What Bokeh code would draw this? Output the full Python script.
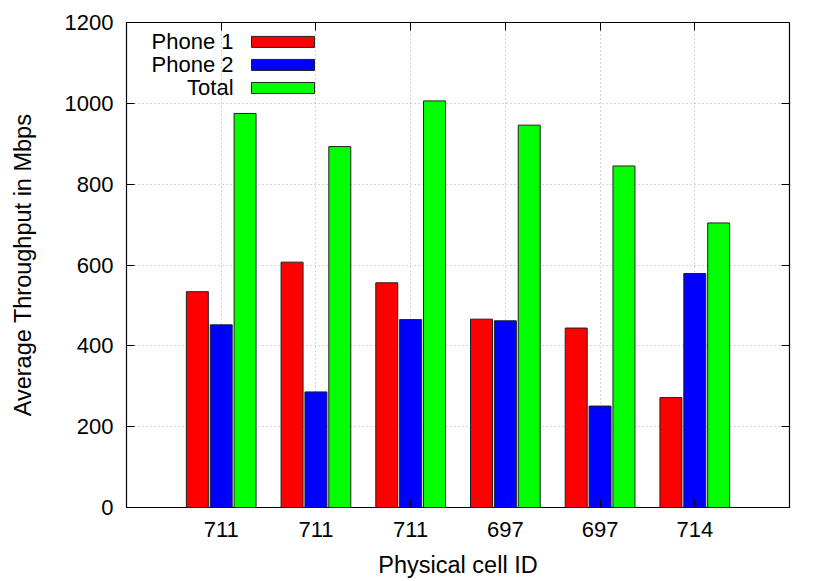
from bokeh.plotting import figure
from bokeh.models import (FixedTicker, LinearAxis, Range1d, Label, BoxAnnotation,
                          ColumnDataSource)
from bokeh.embed import file_html
from bokeh.resources import INLINE

# ---- data ----
cell_ids = ["711", "711", "711", "697", "697", "714"]
phone1 = [534, 607, 556, 466, 444, 272]
phone2 = [452, 286, 465, 462, 251, 579]
total = [975, 893, 1006, 946, 845, 704]
series_names = ["Phone 1", "Phone 2", "Total"]
series_colors = ["#ff0000", "#0000ff", "#00ff00"]
y_ticks = [0, 200, 400, 600, 800, 1000, 1200]

FONT = "Liberation Sans"
FS = "22px"
FS_LABEL = "23.5px"

positions = list(range(1, len(cell_ids) + 1))
series_values = [phone1, phone2, total]

p = figure(width=822, height=581,
           x_range=Range1d(0, len(cell_ids) + 1), y_range=Range1d(0, 1200),
           output_backend="svg", toolbar_location=None,
           min_border_left=126, min_border_right=33,
           min_border_top=22, min_border_bottom=74,
           background_fill_color="white", border_fill_color="white")

p.outline_line_color = "black"
p.outline_line_width = 1.2

# grids
p.xgrid.ticker = FixedTicker(ticks=positions)
p.ygrid.ticker = FixedTicker(ticks=y_ticks)
for g in (p.xgrid, p.ygrid):
    g.grid_line_color = "#a8a8a8"
    g.grid_line_dash = "1 3"
    g.grid_line_width = 1

# axes
xa = p.xaxis[0]
xa.ticker = FixedTicker(ticks=positions)
xa.major_label_overrides = {pos: lab for pos, lab in zip(positions, cell_ids)}
xa.axis_label = "Physical cell ID"
ya = p.yaxis[0]
ya.ticker = FixedTicker(ticks=y_ticks)
ya.axis_label = "Average Throughput in Mbps"

for ax in (xa, ya):
    ax.major_tick_in = 8
    ax.major_tick_out = 0
    ax.minor_tick_line_color = None
    ax.axis_line_color = None
    ax.major_tick_line_color = "black"
    ax.major_label_text_font = FONT
    ax.major_label_text_font_size = FS
    ax.major_label_text_color = "black"
    ax.axis_label_text_font = FONT
    ax.axis_label_text_font_size = FS_LABEL
    ax.axis_label_text_font_style = "normal"
    ax.axis_label_text_color = "black"
xa.major_label_standoff = 14
xa.axis_label_standoff = 12
ya.major_label_standoff = 13
ya.axis_label_standoff = 26

# mirrored ticks on top / right (no labels)
top = LinearAxis(ticker=FixedTicker(ticks=positions), major_tick_in=8, major_tick_out=0,
                 minor_tick_line_color=None, axis_line_color=None,
                 major_label_text_color=None, major_label_text_font_size="1px",
                 major_label_standoff=0)
right = LinearAxis(ticker=FixedTicker(ticks=y_ticks), major_tick_in=8, major_tick_out=0,
                   minor_tick_line_color=None, axis_line_color=None,
                   major_label_text_color=None, major_label_text_font_size="1px",
                   major_label_standoff=0)
p.add_layout(top, "above")
p.add_layout(right, "right")

# bars
bar_w = 0.232
step = 0.252
n = len(series_names)
for i, (name, vals, col) in enumerate(zip(series_names, series_values, series_colors)):
    off = (i - (n - 1) / 2) * step
    src = ColumnDataSource(dict(x=[pos + off for pos in positions], top=vals))
    p.vbar(x="x", top="top", width=bar_w, source=src, fill_color=col,
           line_color="#202020", line_width=1)

# legend (gnuplot style: text then swatch)
leg_text_x = 1.13
leg_box_l, leg_box_r = 1.32, 1.985
leg_y0, leg_dy, leg_h = 1152, 57, 13.6
for i, (name, col) in enumerate(zip(series_names, series_colors)):
    yy = leg_y0 - i * leg_dy
    p.add_layout(Label(x=leg_text_x, y=yy, text=name, text_align="right",
                       text_baseline="middle", text_font=FONT, text_font_size=FS,
                       text_color="black"))
    p.add_layout(BoxAnnotation(left=leg_box_l, right=leg_box_r, bottom=yy - leg_h,
                               top=yy + leg_h, fill_color=col, fill_alpha=1,
                               line_color="#202020", line_width=1, line_alpha=1))

open("out.html", "w").write(file_html(p, INLINE))
